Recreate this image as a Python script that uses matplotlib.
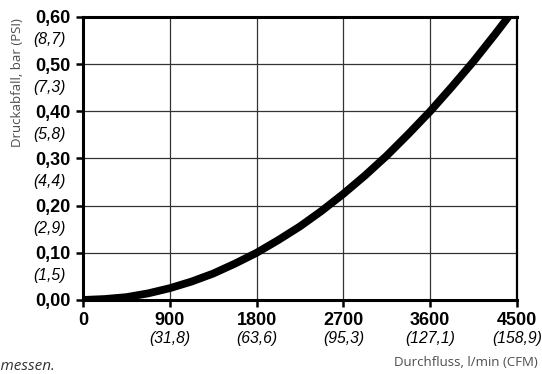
import matplotlib
matplotlib.use("Agg")
import matplotlib.pyplot as plt
import matplotlib.transforms as mtransforms

# curve
flow = [0, 225, 450, 675, 900, 1125, 1350, 1575, 1800, 2025, 2250, 2475,
        2700, 2925, 3150, 3375, 3600, 3825, 4050, 4275, 4410]
drop = [0, 0.002, 0.006, 0.014, 0.025, 0.039, 0.056, 0.077, 0.100, 0.127,
        0.156, 0.189, 0.225, 0.264, 0.306, 0.352, 0.400, 0.452, 0.506,
        0.564, 0.600]

x_ticks = [0, 900, 1800, 2700, 3600, 4500]
x_labels = ["0", "900", "1800", "2700", "3600", "4500"]
x_cfm = ["", "(31,8)", "(63,6)", "(95,3)", "(127,1)", "(158,9)"]

y_ticks = [0, 0.1, 0.2, 0.3, 0.4, 0.5, 0.6]
y_labels = ["0,00", "0,10", "0,20", "0,30", "0,40", "0,50", "0,60"]
y_psi = ["", "(1,5)", "(2,9)", "(4,4)", "(5,8)", "(7,3)", "(8,7)"]

plt.rcParams['font.family'] = ['Liberation Sans', 'DejaVu Sans']

fig = plt.figure(figsize=(5.42, 3.74), dpi=100)
ax = fig.add_axes([0.1531, 0.1979, 0.8007, 0.7567])

ax.plot(flow, drop, color="black", lw=5.6, solid_capstyle="butt", zorder=3)

ax.set_xlim(0, 4500)
ax.set_ylim(0, 0.6)
ax.set_xticks(x_ticks)
ax.set_xticklabels(x_labels, fontweight="bold", fontsize=13)
ax.set_yticks(y_ticks)
ax.set_yticklabels(y_labels, fontweight="bold", fontsize=13)
ax.tick_params(axis="both", direction="out", length=5, width=1.8, color="black")
ax.tick_params(axis="x", pad=4)
ax.tick_params(axis="y", pad=4)

ax.grid(True, color="#333333", lw=0.9)
ax.set_axisbelow(True)
for s in ["left", "bottom", "top"]:
    ax.spines[s].set_linewidth(2.2)
ax.spines["right"].set_linewidth(1.6)

# italic secondary labels below each tick label
shift_down = mtransforms.ScaledTranslation(0, -23 / 100, fig.dpi_scale_trans)
ty = mtransforms.blended_transform_factory(fig.transFigure, ax.transData)
for v, t in zip(y_ticks, y_psi):
    if t:
        ax.text(66 / 542, v, t, transform=ty + shift_down, ha="right",
                va="center", fontsize=11.3, style="italic")

tx = mtransforms.blended_transform_factory(ax.transData, fig.transFigure)
for v, t in zip(x_ticks, x_cfm):
    if t:
        ax.text(v, 1 - 338 / 374, t, transform=tx, ha="center", va="center",
                fontsize=11.3, style="italic", clip_on=False)

fig.text(18 / 542, 1 - 83 / 374, "Druckabfall, bar (PSI)", rotation=90,
         ha="center", va="center", fontsize=9.5, color="#4d4d4d",
         family="Open Sans")
fig.text(538 / 542, 1 - 362 / 374, "Durchfluss, l/min (CFM)", ha="right",
         va="center", fontsize=9.5, color="#4d4d4d", family="Open Sans")
# footnote continues off the left edge in the source
fig.text(56 / 542, 1 - 367 / 374, "gemessen.", ha="right", va="center",
         fontsize=11, color="#333333", style="italic", family="Open Sans")

fig.savefig("out.png", dpi=100)
